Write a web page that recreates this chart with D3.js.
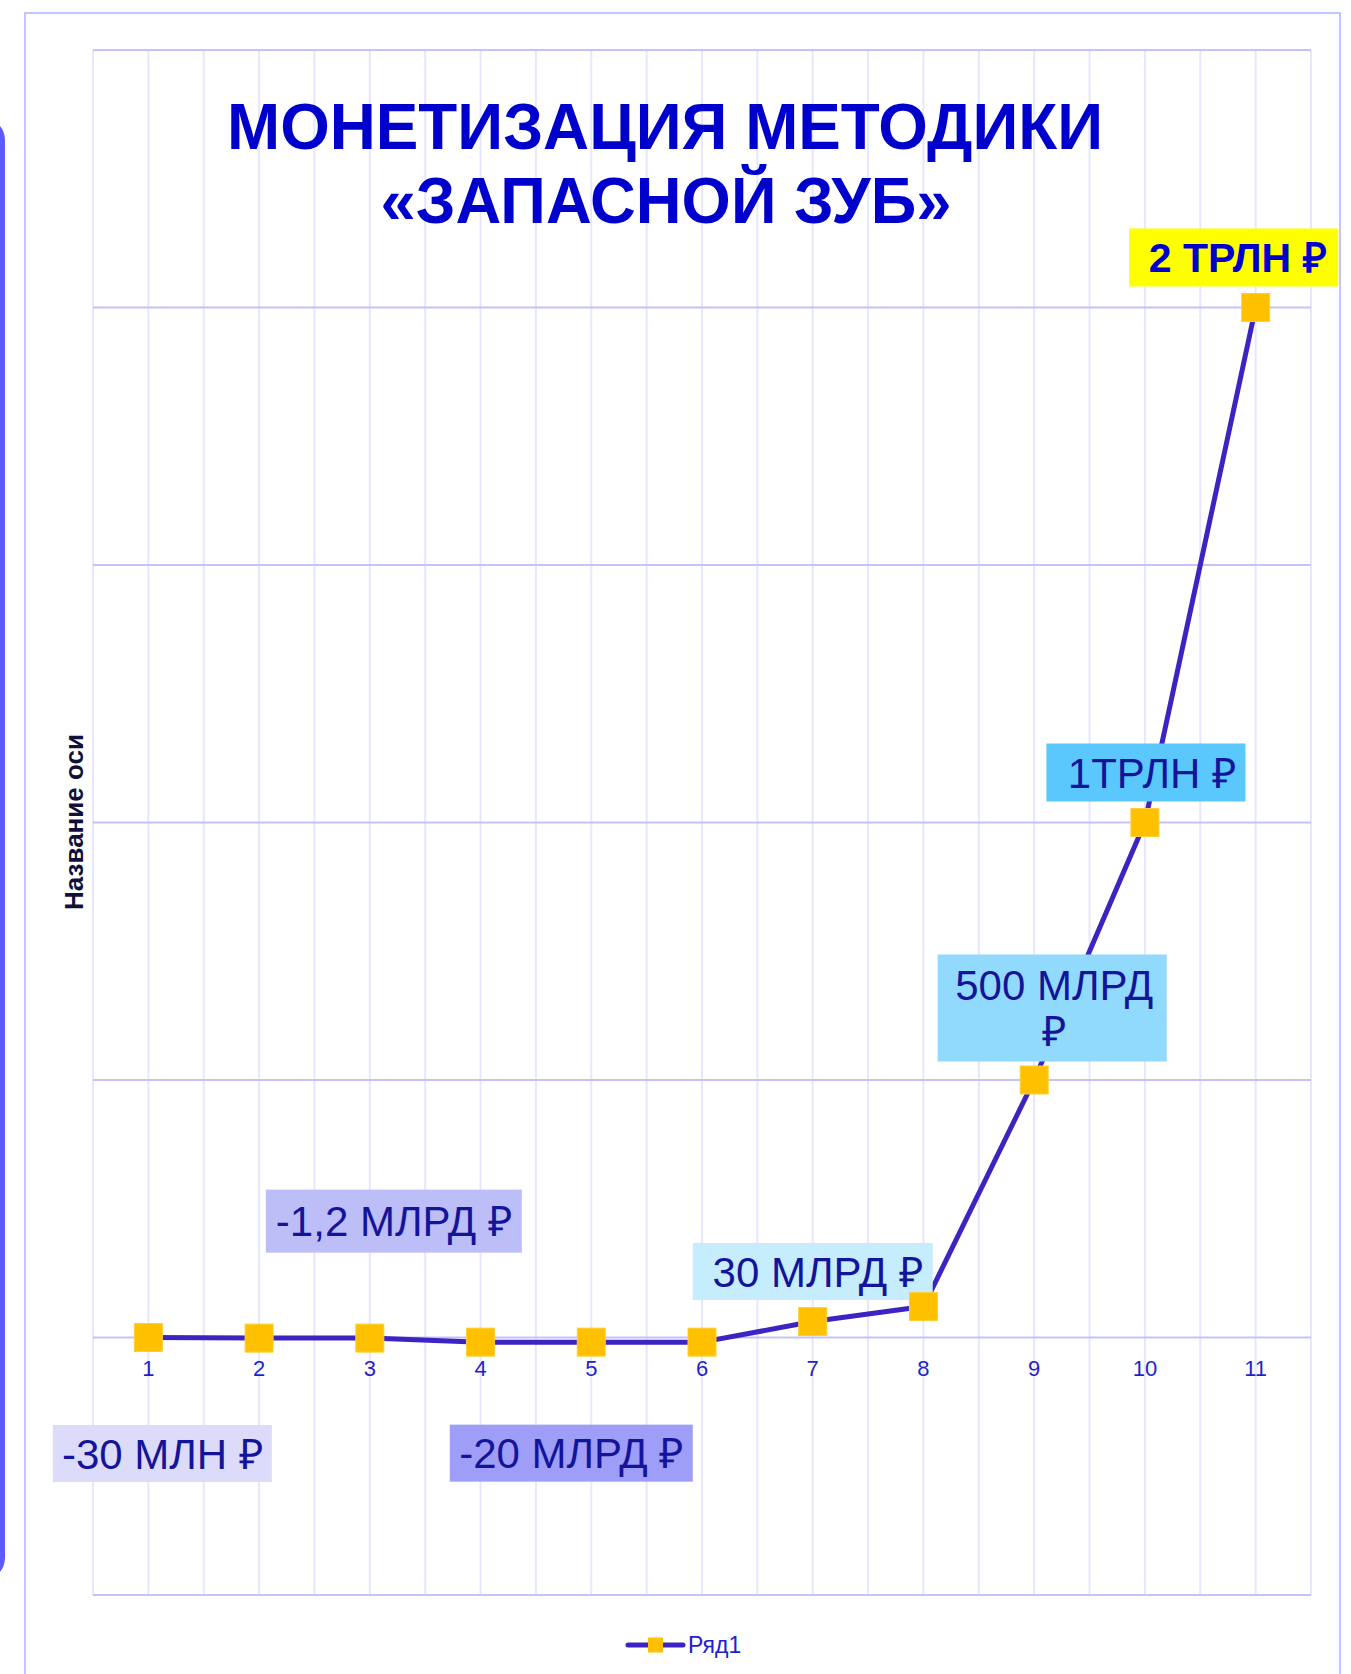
<!DOCTYPE html>
<html>
<head>
<meta charset="utf-8">
<script src="https://cdn.jsdelivr.net/npm/d3@7"></script>
<style>
  html, body { margin: 0; padding: 0; background: #fff; }
  svg { display: block; font-family: "Liberation Sans", Arial, sans-serif; }
</style>
</head>
<body>
<div id="container"></div>
<script>
// values in billions of roubles (млрд ₽)
const categories = ["1", "2", "3", "4", "5", "6", "7", "8", "9", "10", "11"];
const values = [-0.03, -1.2, -1.2, -9, -9, -9, 31, 60, 500, 1000, 2000];
const seriesName = "Ряд1";
const titleLines = ["МОНЕТИЗАЦИЯ МЕТОДИКИ", "«ЗАПАСНОЙ ЗУБ»"];
const axisTitle = "Название оси";

// data labels: point index, text lines, box colour
const labelIndex = [0, 2, 4, 6, 8, 9, 10];
const labelText = [["-30 МЛН ₽"], ["-1,2 МЛРД ₽"], ["-20 МЛРД ₽"], ["30 МЛРД ₽"], ["500 МЛРД", "₽"], ["1ТРЛН ₽"], ["2 ТРЛН ₽"]];
const labelFill = ["#dcdcfa", "#bdbdf8", "#9e9ef8", "#c5edfd", "#92d9fe", "#5ac8fc", "#ffff00"];
// offsets of each label box from its point, box size, text shift
const labelLayout = [
  {dx: 14, dy: 116, w: 219, h: 57, tx: 0},
  {dx: 24, dy: -117, w: 256, h: 63, tx: 0},
  {dx: -20, dy: 111, w: 243, h: 57, tx: 0},
  {dx: 0, dy: -50, w: 240, h: 57, tx: 5},
  {dx: 18, dy: -72, w: 229, h: 107, tx: 2},
  {dx: 1, dy: -50, w: 199, h: 58, tx: 6},
  {dx: -22, dy: -50, w: 209, h: 58, tx: 4}
];

const width = 1351, height = 1674;
const plot = {left: 93, right: 1311, top: 50, bottom: 1595};

const svg = d3.select("#container").append("svg")
  .attr("width", width)
  .attr("height", height)
  .attr("viewBox", [0, 0, width, height]);

svg.append("rect").attr("width", width).attr("height", height).attr("fill", "#fff");

// side bar and outer frame
svg.append("rect")
  .attr("x", -40).attr("y", 118).attr("width", 45).attr("height", 1462)
  .attr("rx", 22).attr("fill", "#5b5bff");
svg.append("rect")
  .attr("x", 25).attr("y", 13).attr("width", 1315).attr("height", 1720)
  .attr("fill", "none").attr("stroke", "#c4c4ff").attr("stroke-width", 2);

const x = d3.scaleBand().domain(categories).range([plot.left, plot.right]);
const y = d3.scaleLinear().domain([-500, 2500]).range([plot.bottom, plot.top]);
const cx = (i) => x(categories[i]) + x.bandwidth() / 2;

/* ---------- grid ---------- */
const vLines = [];
categories.forEach(c => { vLines.push(x(c)); vLines.push(x(c) + x.bandwidth() / 2); });
vLines.push(plot.right);

svg.append("g").selectAll("line")
  .data(vLines)
  .join("line")
  .attr("x1", d => d).attr("x2", d => d)
  .attr("y1", plot.top).attr("y2", plot.bottom)
  .attr("stroke", "#e6e6ff").attr("stroke-width", 2);

svg.append("g").selectAll("line")
  .data(y.ticks(6))
  .join("line")
  .attr("x1", plot.left).attr("x2", plot.right)
  .attr("y1", d => y(d)).attr("y2", d => y(d))
  .attr("stroke", "#c3c3f7").attr("stroke-width", 2);

/* ---------- category labels ---------- */
svg.append("g").selectAll("text")
  .data(categories)
  .join("text")
  .attr("x", (d, i) => cx(i))
  .attr("y", y(0) + 38)
  .attr("text-anchor", "middle")
  .attr("font-size", 22)
  .attr("fill", "#1f1fcc")
  .text(d => d);

/* ---------- title ---------- */
svg.append("text")
  .attr("x", 665).attr("y", 149)
  .attr("text-anchor", "middle")
  .attr("font-size", 65).attr("font-weight", "bold")
  .attr("fill", "#0000cc")
  .attr("textLength", 876).attr("lengthAdjust", "spacingAndGlyphs")
  .text(titleLines[0]);
svg.append("text")
  .attr("x", 666).attr("y", 223)
  .attr("text-anchor", "middle")
  .attr("font-size", 65).attr("font-weight", "bold")
  .attr("fill", "#0000cc")
  .attr("textLength", 571).attr("lengthAdjust", "spacingAndGlyphs")
  .text(titleLines[1]);

/* ---------- axis title ---------- */
svg.append("text")
  .attr("transform", "translate(83,822) rotate(-90)")
  .attr("text-anchor", "middle")
  .attr("font-size", 26).attr("font-weight", "bold")
  .attr("fill", "#10103a")
  .text(axisTitle);

/* ---------- series ---------- */
const line = d3.line()
  .x((d, i) => cx(i))
  .y(d => y(d));

svg.append("path")
  .datum(values)
  .attr("d", line)
  .attr("fill", "none")
  .attr("stroke", "#3b24c2")
  .attr("stroke-width", 5)
  .attr("stroke-linejoin", "round");

/* ---------- data labels ---------- */
const labels = labelIndex.map((idx, k) => ({
  idx, lines: labelText[k], fill: labelFill[k], ...labelLayout[k], bold: k === labelIndex.length - 1
}));

const lg = svg.append("g").selectAll("g")
  .data(labels)
  .join("g")
  .attr("transform", d => `translate(${cx(d.idx) + d.dx},${y(values[d.idx]) + d.dy})`);

lg.append("rect")
  .attr("x", d => -d.w / 2).attr("y", d => -d.h / 2)
  .attr("width", d => d.w).attr("height", d => d.h)
  .attr("fill", d => d.fill);

lg.each(function(d) {
  const fs = d.bold ? 41 : 42;
  const n = d.lines.length;
  const t = d3.select(this).append("text")
    .attr("text-anchor", "middle")
    .attr("font-size", fs)
    .attr("font-weight", d.bold ? "bold" : "normal")
    .attr("fill", d.bold ? "#0000cc" : "#14149a");
  d.lines.forEach((s, j) => {
    t.append("tspan")
      .attr("x", d.tx)
      .attr("y", (j - (n - 1) / 2) * 46 + fs * 0.36)
      .text(s);
  });
});

/* ---------- markers ---------- */
svg.append("g").selectAll("rect")
  .data(values)
  .join("rect")
  .attr("x", (d, i) => cx(i) - 14)
  .attr("y", d => y(d) - 14)
  .attr("width", 28).attr("height", 28)
  .attr("fill", "#ffc000")
  .attr("stroke", "#ffcf33").attr("stroke-width", 1);

/* ---------- legend ---------- */
const leg = svg.append("g").attr("transform", "translate(628,1645)");
leg.append("line")
  .attr("x1", 0).attr("x2", 55).attr("y1", 0).attr("y2", 0)
  .attr("stroke", "#3b24c2").attr("stroke-width", 5).attr("stroke-linecap", "round");
leg.append("rect")
  .attr("x", 20).attr("y", -7.5).attr("width", 15).attr("height", 15)
  .attr("fill", "#ffc000");
leg.append("text")
  .attr("x", 60).attr("y", 8)
  .attr("font-size", 23)
  .attr("fill", "#2020cc")
  .text(seriesName);
</script>
</body>
</html>
